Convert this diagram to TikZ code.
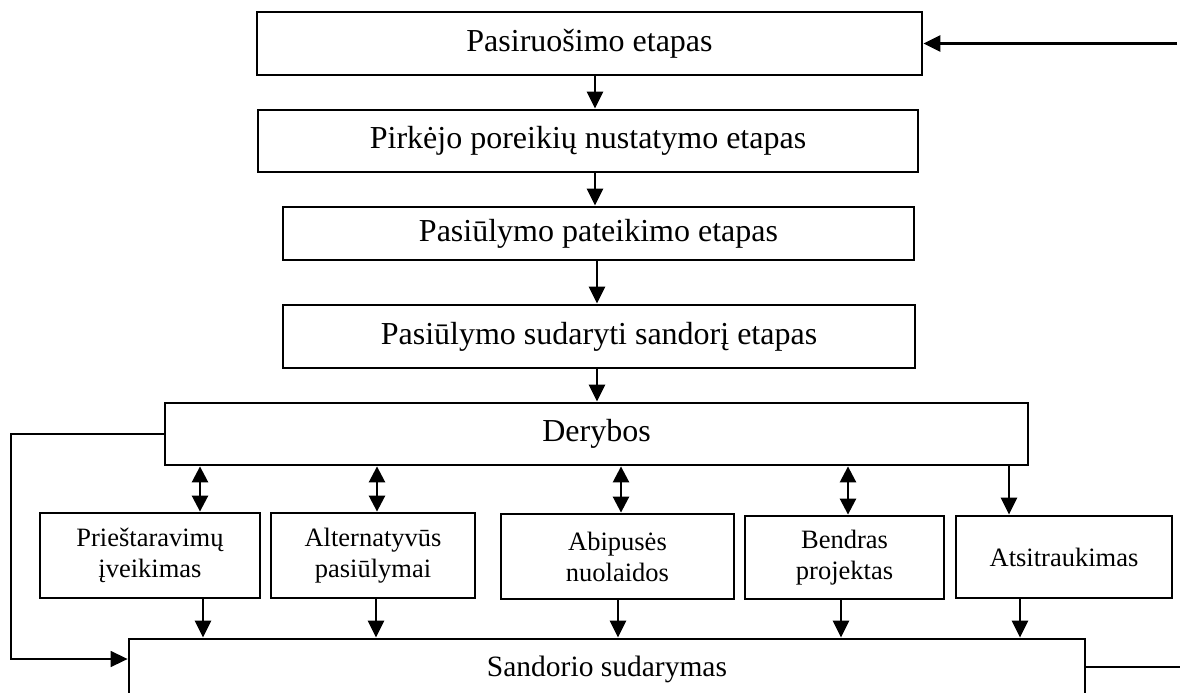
\documentclass[tikz,border=0pt]{standalone}
\usepackage{fontspec}
\setmainfont{Liberation Serif}
\usetikzlibrary{arrows.meta}
\begin{document}
\begin{tikzpicture}[x=1pt,y=-1pt,
  box/.style={draw,line width=2.8pt,inner sep=0pt,align=center,font=\fontsize{32}{36}\selectfont},
  sbox/.style={draw,line width=2.8pt,inner sep=0pt,align=center,font=\fontsize{26.5}{31}\selectfont},
  arr/.style={line width=2.6pt,-{Triangle[length=17pt,width=16pt]}},
  darr/.style={line width=2.6pt,{Triangle[length=16pt,width=16pt]}-{Triangle[length=16pt,width=16pt]}},
  fb/.style={line width=1.5pt}]
\useasboundingbox (0,0) rectangle (1180,693);
% main chain
\node[box,minimum width=665pt,minimum height=63pt] (b1) at (589.5,43.5) {Pasiruošimo etapas};
\node[box,minimum width=660pt,minimum height=62pt] (b2) at (588,141) {Pirkėjo poreikių nustatymo etapas};
\node[box,minimum width=631pt,minimum height=53pt] (b3) at (598.5,233.5) {Pasiūlymo pateikimo etapas};
\node[box,minimum width=632pt,minimum height=63pt] (b4) at (599,336.5) {Pasiūlymo sudaryti sandorį etapas};
\node[box,minimum width=863pt,minimum height=62pt] (b5) at (596.5,434) {Derybos};
% small boxes
\node[sbox,minimum width=220pt,minimum height=85pt] (sa) at (150,555.5) {Prieštaravimų\\įveikimas};
\node[sbox,minimum width=204pt,minimum height=85pt] (sb) at (373,555.5) {Alternatyvūs\\pasiūlymai};
\node[sbox,minimum width=233pt,minimum height=85pt] (sc) at (617.5,556.5) {Abipusės\\nuolaidos};
\node[sbox,minimum width=199pt,minimum height=83pt] (sd) at (844.5,557.5) {Bendras\\projektas};
\node[sbox,minimum width=216pt,minimum height=82pt] (se) at (1064,557) {Atsitraukimas};
% final box (cut by the lower edge)
\node[box,font=\fontsize{29.5}{33}\selectfont,minimum width=956pt,minimum height=60pt] (s) at (607,669) {Sandorio sudarymas};
% x positions
\coordinate (x1) at (595,0);
\coordinate (x2) at (597,0);
\coordinate (xa) at (200,0);
\coordinate (xb) at (377,0);
\coordinate (xc) at (621,0);
\coordinate (xd) at (848,0);
\coordinate (xe) at (1009,0);
\coordinate (ya) at (203,0);
\coordinate (yb) at (376,0);
\coordinate (yc) at (618,0);
\coordinate (yd) at (841,0);
\coordinate (ye) at (1020,0);
% chain arrows
\draw[arr] (b1.south -| x1) -- (b2.north -| x1);
\draw[arr] (b2.south -| x1) -- (b3.north -| x1);
\draw[arr] (b3.south -| x2) -- (b4.north -| x2);
\draw[arr] (b4.south -| x2) -- (b5.north -| x2);
% Derybos to small boxes
\draw[darr] (b5.south -| xa) -- (sa.north -| xa);
\draw[darr] (b5.south -| xb) -- (sb.north -| xb);
\draw[darr] (b5.south -| xc) -- (sc.north -| xc);
\draw[darr] (b5.south -| xd) -- (sd.north -| xd);
\draw[arr] (b5.south -| xe) -- (se.north -| xe);
% small boxes to final box
\draw[arr] (sa.south -| ya) -- (s.north -| ya);
\draw[arr] (sb.south -| yb) -- (s.north -| yb);
\draw[arr] (sc.south -| yc) -- (s.north -| yc);
\draw[arr] (sd.south -| yd) -- (s.north -| yd);
\draw[arr] (se.south -| ye) -- (s.north -| ye);
% feedback lines
\coordinate (fl) at (11,0);
\coordinate (fy) at (0,659);
\draw[fb,-{Triangle[length=17pt,width=16pt]}] (b5.west) -| (fl |- fy) -- (s.west |- fy);
\coordinate (rr) at (1180,0);
\coordinate (rt) at (1177,0);
\coordinate (ry) at (0,667);
\draw[fb] (s.east |- ry) -- (rr |- ry);
\draw[arr] (rt |- b1.east) -- (b1.east);
\end{tikzpicture}
\end{document}
